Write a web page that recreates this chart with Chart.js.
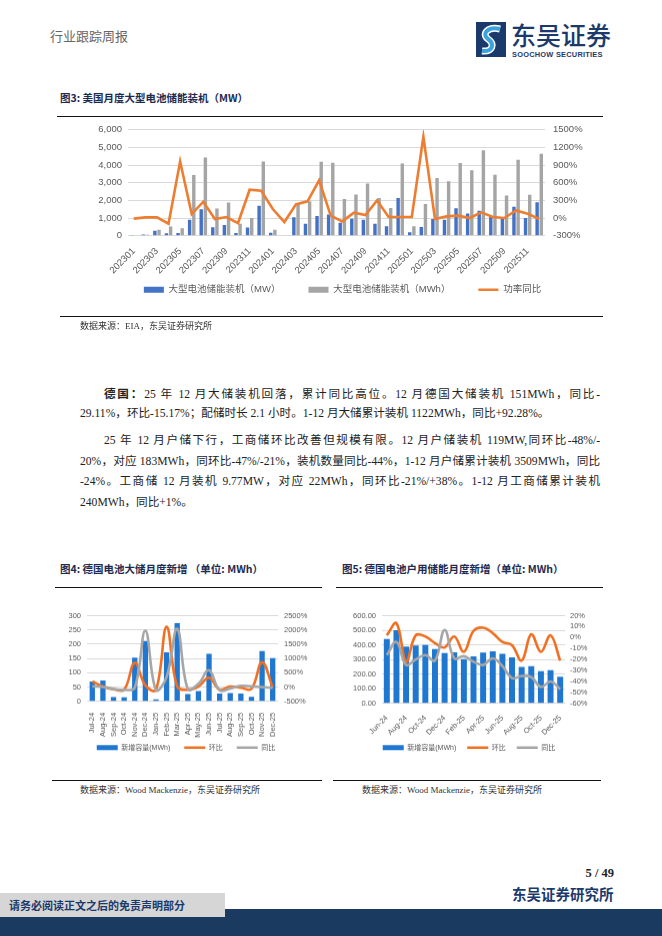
<!DOCTYPE html>
<html><head><meta charset="utf-8">
<script src="https://cdn.jsdelivr.net/npm/chart.js@4.4.1/dist/chart.umd.min.js"></script>
<style>
html,body{margin:0;padding:0;background:#fff;}
#page{position:relative;width:662px;height:936px;overflow:hidden;background:#fff;font-family:'Liberation Serif','Noto Sans CJK SC',serif;color:#222;}
.a{position:absolute;white-space:nowrap;}
.hr{position:absolute;height:1.3px;background:#111;}
.ttl{position:absolute;white-space:nowrap;font-family:'Noto Sans CJK SC',sans-serif;font-weight:700;font-size:10.5px;color:#1d2b50;}
.src{position:absolute;white-space:nowrap;font-size:9px;color:#333;font-family:'Liberation Serif','Noto Sans CJK SC',serif;}
.pl{position:absolute;white-space:nowrap;font-size:11.6px;line-height:14px;left:80px;color:#222;}
.j{width:520px;text-align:justify;text-align-last:justify;}
.box{position:absolute;}
</style></head>
<body><div id="page">
<div class="a" style="left:50px;top:26px;font-size:13px;color:#666;font-family:'Noto Sans CJK SC',sans-serif;">行业跟踪周报</div>
<svg class="a" style="left:476px;top:22px" width="30" height="35" viewBox="0 0 30 35">
 <rect width="30" height="35" fill="#1b3a6b"/>
 <path d="M24 7 C12 4,5 12,12 17 C19 22,17 30,6 29" stroke="#fff" stroke-width="7" fill="none"/>
 <path d="M24 7 C12 4,5 12,12 17 C19 22,17 30,6 29" stroke="#3aa3de" stroke-width="4" fill="none"/>
</svg>
<div class="a" style="left:511px;top:19px;font-size:25px;line-height:30px;color:#1b3a6b;font-family:'Noto Sans CJK SC',sans-serif;font-weight:500;">东吴证券</div>
<div class="a" style="left:512px;top:50px;font-size:7.4px;line-height:9px;color:#1b3a6b;font-family:'Liberation Sans',sans-serif;font-weight:700;letter-spacing:0.25px;">SOOCHOW SECURITIES</div>

<div class="ttl" style="left:60px;top:90px;">图3: 美国月度大型电池储能装机（MW）</div>
<div class="hr" style="left:57px;top:116px;width:546px;"></div>
<div class="box" id="b1" style="left:90px;top:122px;width:505px;height:240px;"><canvas id="c1"></canvas></div>
<div class="hr" style="left:60px;top:316px;width:543px;"></div>
<div class="src" style="left:80px;top:319px;">数据来源：EIA，东吴证券研究所</div>

<div class="pl j" style="top:386px;text-indent:24px;"><b style="font-family:'Noto Sans CJK SC';">德国：</b>25 年 12 月大储装机回落，累计同比高位。12 月德国大储装机 151MWh，同比-</div>
<div class="pl" style="top:407px;">29.11%，环比-15.17%；配储时长 2.1 小时。1-12 月大储累计装机 1122MWh，同比+92.28%。</div>
<div class="pl j" style="top:434px;text-indent:24px;">25 年 12 月户储下行，工商储环比改善但规模有限。12 月户储装机 119MW,同环比-48%/-</div>
<div class="pl j" style="top:455px;">20%，对应 183MWh，同环比-47%/-21%，装机数量同比-44%，1-12 月户储累计装机 3509MWh，同比</div>
<div class="pl j" style="top:475px;">-24%。工商储 12 月装机 9.77MW，对应 22MWh，同环比-21%/+38%。1-12 月工商储累计装机</div>
<div class="pl" style="top:496px;">240MWh，同比+1%。</div>

<div class="ttl" style="left:60px;top:561px;">图4: 德国电池大储月度新增 （单位: MWh）</div>
<div class="ttl" style="left:342px;top:561px;">图5: 德国电池户用储能月度新增（单位: MWh）</div>
<div class="hr" style="left:55px;top:587px;width:267px;"></div>
<div class="hr" style="left:336px;top:587px;width:267px;"></div>
<div class="box" id="b4" style="left:62px;top:608px;width:248px;height:200px;"><canvas id="c4"></canvas></div>
<div class="box" id="b5" style="left:343px;top:608px;width:252px;height:200px;"><canvas id="c5"></canvas></div>
<div class="hr" style="left:52px;top:780px;width:270px;"></div>
<div class="hr" style="left:333px;top:780px;width:268px;"></div>
<div class="src" style="left:80px;top:783px;">数据来源：Wood Mackenzie，东吴证券研究所</div>
<div class="src" style="left:362px;top:783px;">数据来源：Wood Mackenzie，东吴证券研究所</div>

<div class="a" style="right:48px;top:866px;font-size:12.5px;font-weight:700;color:#222;">5 / 49</div>
<div class="a" style="left:512px;top:883px;font-size:14.5px;font-weight:700;color:#1b3a6b;font-family:'Noto Sans CJK SC',sans-serif;">东吴证券研究所</div>
<div class="a" style="left:0;top:909px;width:662px;height:27px;background:#1b3a5f;"></div>
<div class="a" style="left:0;top:893px;width:225px;height:24px;background:#d6d6d6;"></div>
<div class="a" style="left:9px;top:897px;font-size:11px;line-height:16px;font-weight:700;color:#1b3a6b;font-family:'Noto Sans CJK SC',sans-serif;">请务必阅读正文之后的免责声明部分</div>
</div>
<script>
// ---- Figure 3 data ----
const months1 = ['202301','202302','202303','202304','202305','202306','202307','202308','202309','202310','202311','202312',
 '202401','202402','202403','202404','202405','202406','202407','202408','202409','202410','202411','202412',
 '202501','202502','202503','202504','202505','202506','202507','202508','202509','202510','202511','202512'];
const mwValues = [40,70,280,140,150,900,1500,480,600,150,470,1700,
 160,30,1050,680,1120,1200,730,960,900,680,530,2130,
 190,490,940,905,1550,1260,1415,1060,1000,1640,1000,1890];
const mwhValues = [30,60,340,520,420,3430,4430,1540,1880,680,1000,4200,
 340,20,1800,1950,4180,4130,2080,2330,2950,2130,1570,4080,
 530,1790,3260,3080,4110,3700,4830,3450,2280,4300,2320,4640];
const powerYoy = [-10,11,11,-96,960,68,277,-17,17,-85,481,464,
 153,-68,232,283,640,40,-57,90,51,300,17,17,
 17,1380,-17,28,40,0,96,17,0,130,74,-17];

// ---- Figure 4 data ----
const months4 = ['Jul-24','Aug-24','Sep-24','Oct-24','Nov-24','Dec-24','Jan-25','Feb-25','Mar-25','Apr-25','May-25','Jun-25','Jul-25','Aug-25','Sep-25','Oct-25','Nov-25','Dec-25'];
const utilityAdd = [70,73,15,14,153,211,7,172,274,26,36,166,27,29,27,16,176,151];
const utilityMom = [200,20,-75,-90,850,60,-97,2110,20,-95,20,330,-90,20,-20,-60,870,-15];
const utilityYoy = [25,0,-70,-95,-25,1970,-100,350,2040,-70,115,590,-115,-45,45,25,0,-29];

// ---- Figure 5 data ----
const months5 = ['Jun-24','Jul-24','Aug-24','Sep-24','Oct-24','Nov-24','Dec-24','Jan-25','Feb-25','Mar-25','Apr-25','May-25','Jun-25','Jul-25','Aug-25','Sep-25','Oct-25','Nov-25','Dec-25'];
const homeAdd = [440,500,388,395,399,372,344,349,303,322,347,356,338,315,249,255,221,228,183];
const homeMom = [2,13,-22,2,1,-5,-9,1,-13,6,9,4,-4,-7,-21,3,-13,2,-21];
const homeYoy = [-16,-4,-25,-20,-16,-21,7,-19,-17,-22,-25,-19,-26,-37,-35,-36,-45,-40,-47];

Chart.defaults.font.family = "'Liberation Sans','Noto Sans CJK SC',sans-serif";
Chart.defaults.color = '#595959';
Chart.defaults.animation = false;

// places the legend row a given distance below the plot area
Chart.register({id:'legendPlace', afterLayout(chart, args, opts){
  if(opts == null || opts.gap == null) return;
  const lg = chart.legend; if(!lg) return;
  const pad = lg.options.labels.padding;
  const h = lg.bottom - lg.top;
  const t = chart.chartArea.bottom + opts.gap - pad - opts.fs/2;
  lg.top = t; lg.bottom = t + h;
}});

const TICK = '#595959', GRID = '#D9D9D9';

function legendOpts(size, pad, bw, bh){
  return {display:true, position:'bottom', align:'center',
    labels:{usePointStyle:true, pointStyleWidth:bw, boxHeight:bh, padding:pad, color:TICK, font:{size:size},
      sort:(a,b)=>a.datasetIndex-b.datasetIndex}};
}

// position the box so the plot area sits at the wanted page rows
function place(chart, boxId, top, bottom){
  const box = document.getElementById(boxId);
  for(let k=0;k<4;k++){
    const ca = chart.chartArea;
    const dh = (bottom-top) - (ca.bottom-ca.top);
    box.style.height = (parseFloat(box.style.height) + dh) + 'px';
    chart.resize();
    box.style.top = (top - chart.chartArea.top) + 'px';
  }
}

const ch1 = new Chart(document.getElementById('c1'), {
  type:'bar',
  data:{labels:months1, datasets:[
    {label:'大型电池储能装机（MW）', data:mwValues, backgroundColor:'#4472C4', pointStyle:'rect', borderWidth:0, order:2, yAxisID:'y', barPercentage:0.82, categoryPercentage:0.72},
    {label:'大型电池储能装机（MWh）', data:mwhValues, backgroundColor:'#A5A5A5', pointStyle:'rect', borderWidth:0, order:3, yAxisID:'y', barPercentage:0.82, categoryPercentage:0.72},
    {type:'line', label:'功率同比', data:powerYoy, borderColor:'#ED7D31', backgroundColor:'#ED7D31', borderWidth:2.6, pointRadius:0, tension:0, pointStyle:'line', order:1, yAxisID:'y1'}
  ]},
  options:{responsive:true, maintainAspectRatio:false,
    layout:{padding:{top:8,left:0,right:0,bottom:0}},
    plugins:{legend:legendOpts(9.5,28,20,6), legendPlace:{gap:54, fs:9.5}, tooltip:{enabled:false}},
    scales:{
      x:{grid:{display:false}, border:{display:false},
        ticks:{autoSkip:false, minRotation:45, maxRotation:45, color:TICK, font:{size:9.5}, padding:2,
          callback:function(v,i){return i%2===0 ? this.getLabelForValue(v) : '';}},
        afterFit:s=>{s.height=52;}},
      y:{min:0, max:6000, grid:{color:GRID, drawTicks:false}, border:{display:false},
        ticks:{stepSize:1000, autoSkip:false, color:TICK, font:{size:9.5}, padding:6, callback:v=>v.toLocaleString('en-US')},
        afterFit:s=>{s.width=38;}},
      y1:{position:'right', min:-300, max:1500, grid:{display:false, drawTicks:false}, border:{display:false},
        ticks:{stepSize:300, autoSkip:false, color:TICK, font:{size:9.5}, padding:8, callback:v=>v+'%'},
        afterFit:s=>{s.width=50;}}
    }}
});

const ch4 = new Chart(document.getElementById('c4'), {
  type:'bar',
  data:{labels:months4, datasets:[
    {label:'新增容量(MWh)', data:utilityAdd, backgroundColor:'#1F77D0', pointStyle:'rect', borderWidth:0, order:3, yAxisID:'y', barPercentage:0.5, categoryPercentage:1},
    {type:'line', label:'环比', data:utilityMom, borderColor:'#F07023', backgroundColor:'#F07023', borderWidth:2.6, pointRadius:0, tension:0.4, pointStyle:'line', order:2, yAxisID:'y1'},
    {type:'line', label:'同比', data:utilityYoy, borderColor:'#A6A6A6', backgroundColor:'#A6A6A6', borderWidth:2.6, pointRadius:0, tension:0.4, pointStyle:'line', order:1, yAxisID:'y1'}
  ]},
  options:{responsive:true, maintainAspectRatio:false,
    layout:{padding:{top:8,left:0,right:0,bottom:0}},
    plugins:{legend:legendOpts(7,14,21,5), legendPlace:{gap:46, fs:7}, tooltip:{enabled:false}},
    scales:{
      x:{grid:{display:false}, border:{display:false},
        ticks:{autoSkip:false, minRotation:90, maxRotation:90, color:TICK, font:{size:7.5}, padding:3},
        afterFit:s=>{s.height=40;}},
      y:{min:0, max:300, grid:{color:GRID, drawTicks:false}, border:{display:false},
        ticks:{stepSize:50, autoSkip:false, color:TICK, font:{size:7.5}, padding:6},
        afterFit:s=>{s.width=25;}},
      y1:{position:'right', min:-500, max:2500, grid:{display:false, drawTicks:false}, border:{display:false},
        ticks:{stepSize:500, autoSkip:false, color:TICK, font:{size:7.5}, padding:6, callback:v=>v+'%'},
        afterFit:s=>{s.width=32;}}
    }}
});

const ch5 = new Chart(document.getElementById('c5'), {
  type:'bar',
  data:{labels:months5, datasets:[
    {label:'新增容量(MWh)', data:homeAdd, backgroundColor:'#1F77D0', pointStyle:'rect', borderWidth:0, order:3, yAxisID:'y', barPercentage:0.62, categoryPercentage:1},
    {type:'line', label:'环比', data:homeMom, borderColor:'#F07023', backgroundColor:'#F07023', borderWidth:2.6, pointRadius:0, tension:0.4, pointStyle:'line', order:2, yAxisID:'y1'},
    {type:'line', label:'同比', data:homeYoy, borderColor:'#A6A6A6', backgroundColor:'#A6A6A6', borderWidth:2.6, pointRadius:0, tension:0.4, pointStyle:'line', order:1, yAxisID:'y1'}
  ]},
  options:{responsive:true, maintainAspectRatio:false,
    layout:{padding:{top:8,left:0,right:0,bottom:0}},
    plugins:{legend:legendOpts(7,11,21,5), legendPlace:{gap:44, fs:7}, tooltip:{enabled:false}},
    scales:{
      x:{grid:{display:false}, border:{display:false},
        ticks:{autoSkip:false, minRotation:45, maxRotation:45, color:TICK, font:{size:7.5}, padding:2,
          callback:function(v,i){return i%2===0 ? this.getLabelForValue(v) : '';}},
        afterFit:s=>{s.height=36;}},
      y:{min:0, max:600, grid:{color:GRID, drawTicks:false}, border:{display:false},
        ticks:{stepSize:100, autoSkip:false, color:TICK, font:{size:7.5}, padding:6, callback:v=>v.toFixed(2)},
        afterFit:s=>{s.width=39;}},
      y1:{position:'right', min:-60, max:20, grid:{display:false, drawTicks:false}, border:{display:false},
        ticks:{stepSize:10, autoSkip:false, color:TICK, font:{size:7.5}, padding:5, callback:v=>v+'%'},
        afterFit:s=>{s.width=30;}}
    }}
});

place(ch1, 'b1', 130, 236);
place(ch4, 'b4', 615.7, 701);
place(ch5, 'b5', 615.7, 703);
</script>
</body></html>
